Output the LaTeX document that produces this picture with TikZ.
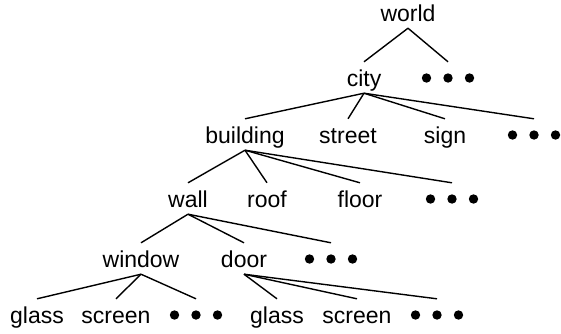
\documentclass[tikz,border=0pt]{standalone}
\usepackage{fontspec}
\setmainfont{Liberation Sans}
\begin{document}
\begin{tikzpicture}[x=1pt,y=-1pt]
	\tikzset{word/.style={anchor=base,inner sep=3pt,text height=21pt,text depth=4pt,font=\fontsize{23}{27}\selectfont},
		more/.style={word,minimum width=60pt},
		link/.style={line width=1.4pt}}
	\useasboundingbox (0,0) rectangle (561,333);
		\node[word] (world) at (408,21) {world};
		\node[word] (city) at (364,86) {city};
		\node[more] (m1) at (448,86) {};
		\node[word] (building) at (245,143) {building};
		\node[word] (street) at (348,143) {street};
		\node[word] (sign) at (445,143) {sign};
		\node[more] (m2) at (534,143) {};
		\node[word] (wall) at (188,207) {wall};
		\node[word] (roof) at (267,207) {roof};
		\node[word] (floor) at (360,207) {floor};
		\node[more] (m3) at (452,207) {};
		\node[word] (window) at (141,267) {window};
		\node[word] (door) at (244,267) {door};
		\node[more] (m4) at (331,267) {};
		\node[word] (glass1) at (37,323) {glass};
		\node[word] (screen1) at (116,323) {screen};
		\node[more] (m5) at (196,323) {};
		\node[word] (glass2) at (277,323) {glass};
		\node[word] (screen2) at (357,323) {screen};
		\node[more] (m6) at (437,323) {};
		\foreach \m in {m1,m2,m3,m4,m5,m6}
			\foreach \i in {-1,0,1}
				\fill ([xshift=\i*21.5pt,yshift=8pt]\m.base) circle (4.7pt);
		\foreach \a/\b in {world/city,world/m1,
				city/building,city/street,city/sign,city/m2,
				building/wall,building/roof,building/floor,building/m3,
				wall/window,wall/door,wall/m4,
				window/glass1,window/screen1,window/m5,
				door/glass2,door/screen2,door/m6}
			\draw[link] (\a.south) -- (\b.north);
\end{tikzpicture}
\end{document}
